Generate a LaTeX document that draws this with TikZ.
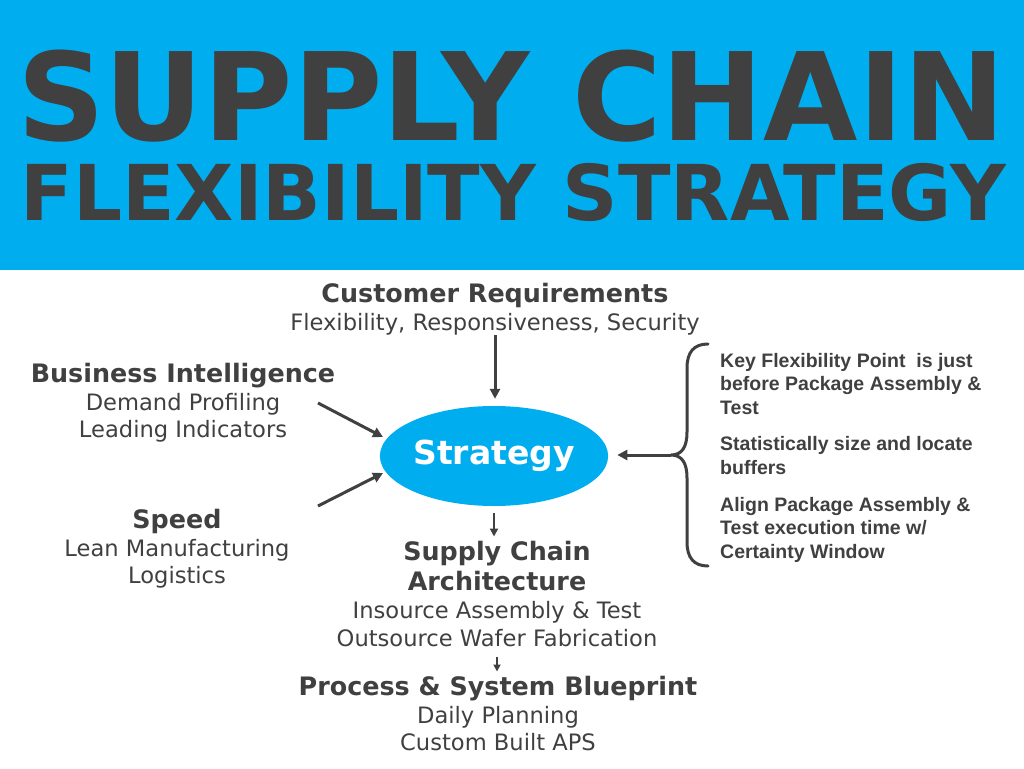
\documentclass[tikz,border=0pt]{standalone}
\usepackage{fontspec}
\setmainfont{DejaVu Sans}
\newfontfamily\arialfont{Liberation Sans}
\usetikzlibrary{arrows.meta,shapes.geometric}
\definecolor{band}{HTML}{00AEEF}
\definecolor{ink}{HTML}{404040}
\begin{document}
\begin{tikzpicture}[x=1pt,y=-1pt,
  every node/.style={inner sep=0pt, text=ink},
  ttl/.style={anchor=base, font=\fontsize{122}{122}\selectfont\bfseries},
  ttlb/.style={anchor=base, font=\fontsize{77}{77}\selectfont\bfseries},
  hd/.style={anchor=base, font=\fontsize{25.4}{30}\selectfont\bfseries},
  bd/.style={anchor=base, font=\fontsize{22.6}{28}\selectfont},
  rt/.style={anchor=base west, font=\arialfont\fontsize{19.5}{23}\selectfont\bfseries},
  arr/.style={draw=ink, line width=3pt, -{Triangle[length=10pt,width=10pt]}},
  arrs/.style={draw=ink, line width=2.5pt, -{Triangle[length=8pt,width=8pt]}},
  arrxs/.style={draw=ink, line width=2pt, -{Triangle[length=7pt,width=7pt]}},
  bracestyle/.style={draw=ink, line width=3pt, line cap=round}
]
\useasboundingbox (0,0) rectangle (1024,768);
\fill[white] (0,0) rectangle (1024,768);
\fill[band] (0,0) rectangle (1024,270);

% title
\node[ttl] (t1) at (511.5,140) {SUPPLY CHAIN};
\node[ttlb] (t2) at (513.5,220) {FLEXIBILITY STRATEGY};

% customer requirements
\node[hd] (cr) at (495,302) {Customer Requirements};
\node[bd] (crb) at (495,330) {Flexibility, Responsiveness, Security};

% business intelligence
\node[hd] (bi) at (183,382) {Business Intelligence};
\node[bd] (bi1) at (183,410) {Demand Profiling};
\node[bd] (bi2) at (183,437) {Leading Indicators};

% speed
\node[hd] (sp) at (177,528) {Speed};
\node[bd] (sp1) at (177,556) {Lean Manufacturing};
\node[bd] (sp2) at (177,583) {Logistics};

% strategy
\node[ellipse, fill=band, minimum width=224pt, minimum height=100pt,
      text=white, font=\fontsize{33}{33}\selectfont\bfseries] (strategy) at (494,456) {\raisebox{-3pt}{Strategy}};

% supply chain architecture
\node[hd] (sca1) at (497,560) {Supply Chain};
\node[hd] (sca2) at (497,590) {Architecture};
\node[bd] (sca3) at (497,618) {Insource Assembly \& Test};
\node[bd] (sca4) at (497,646) {Outsource Wafer Fabrication};

% process & system blueprint
\node[hd] (psb) at (498,695) {Process \& System Blueprint};
\node[bd] (psb1) at (498,723) {Daily Planning};
\node[bd] (psb2) at (498,750) {Custom Built APS};

% right-hand notes
\node[rt] (k1) at (720,367) {Key Flexibility Point\ \ is just};
\node[rt] (k2) at (720,390.5) {before Package Assembly \&};
\node[rt] (k3) at (720,414) {Test};
\node[rt] (s1) at (720,450) {Statistically size and locate};
\node[rt] (s2) at (720,474) {buffers};
\node[rt] (a1) at (720,511) {Align Package Assembly \&};
\node[rt] (a2) at (720,534.5) {Test execution time w/};
\node[rt] (a3) at (720,558) {Certainty Window};

% brace
\coordinate (bracetop) at (708,344);
\coordinate (bracetip) at (671,455);
\coordinate (bracebot) at (708,566);
\draw[bracestyle] (bracetop) .. controls (694,344) and (687,352) .. (687,368)
  -- (687,432) .. controls (687,447) and (682,455) .. (bracetip)
  .. controls (682,455) and (687,463) .. (687,478)
  -- (687,542) .. controls (687,558) and (694,566) .. (bracebot);

% connectors
\coordinate (biA) at (318,403);
\coordinate (biB) at (383,437);
\coordinate (spA) at (318,506);
\coordinate (spB) at (383,473);
\draw[arr] (crb.south) -- (crb.south |- strategy.north) [shorten >=7pt];
\draw[arr] (biA) -- (biB);
\draw[arr] (spA) -- (spB);
\draw[arr] (bracetip) -- (bracetip -| strategy.east) [shorten >=9pt];
\draw[arrs] (strategy.south) -- (strategy.south |- sca1.north) [shorten <=7pt, shorten >=4pt];
\draw[arrxs] (sca4.south) -- (sca4.south |- psb.north) [shorten <=10pt, shorten >=4pt];
\end{tikzpicture}
\end{document}
